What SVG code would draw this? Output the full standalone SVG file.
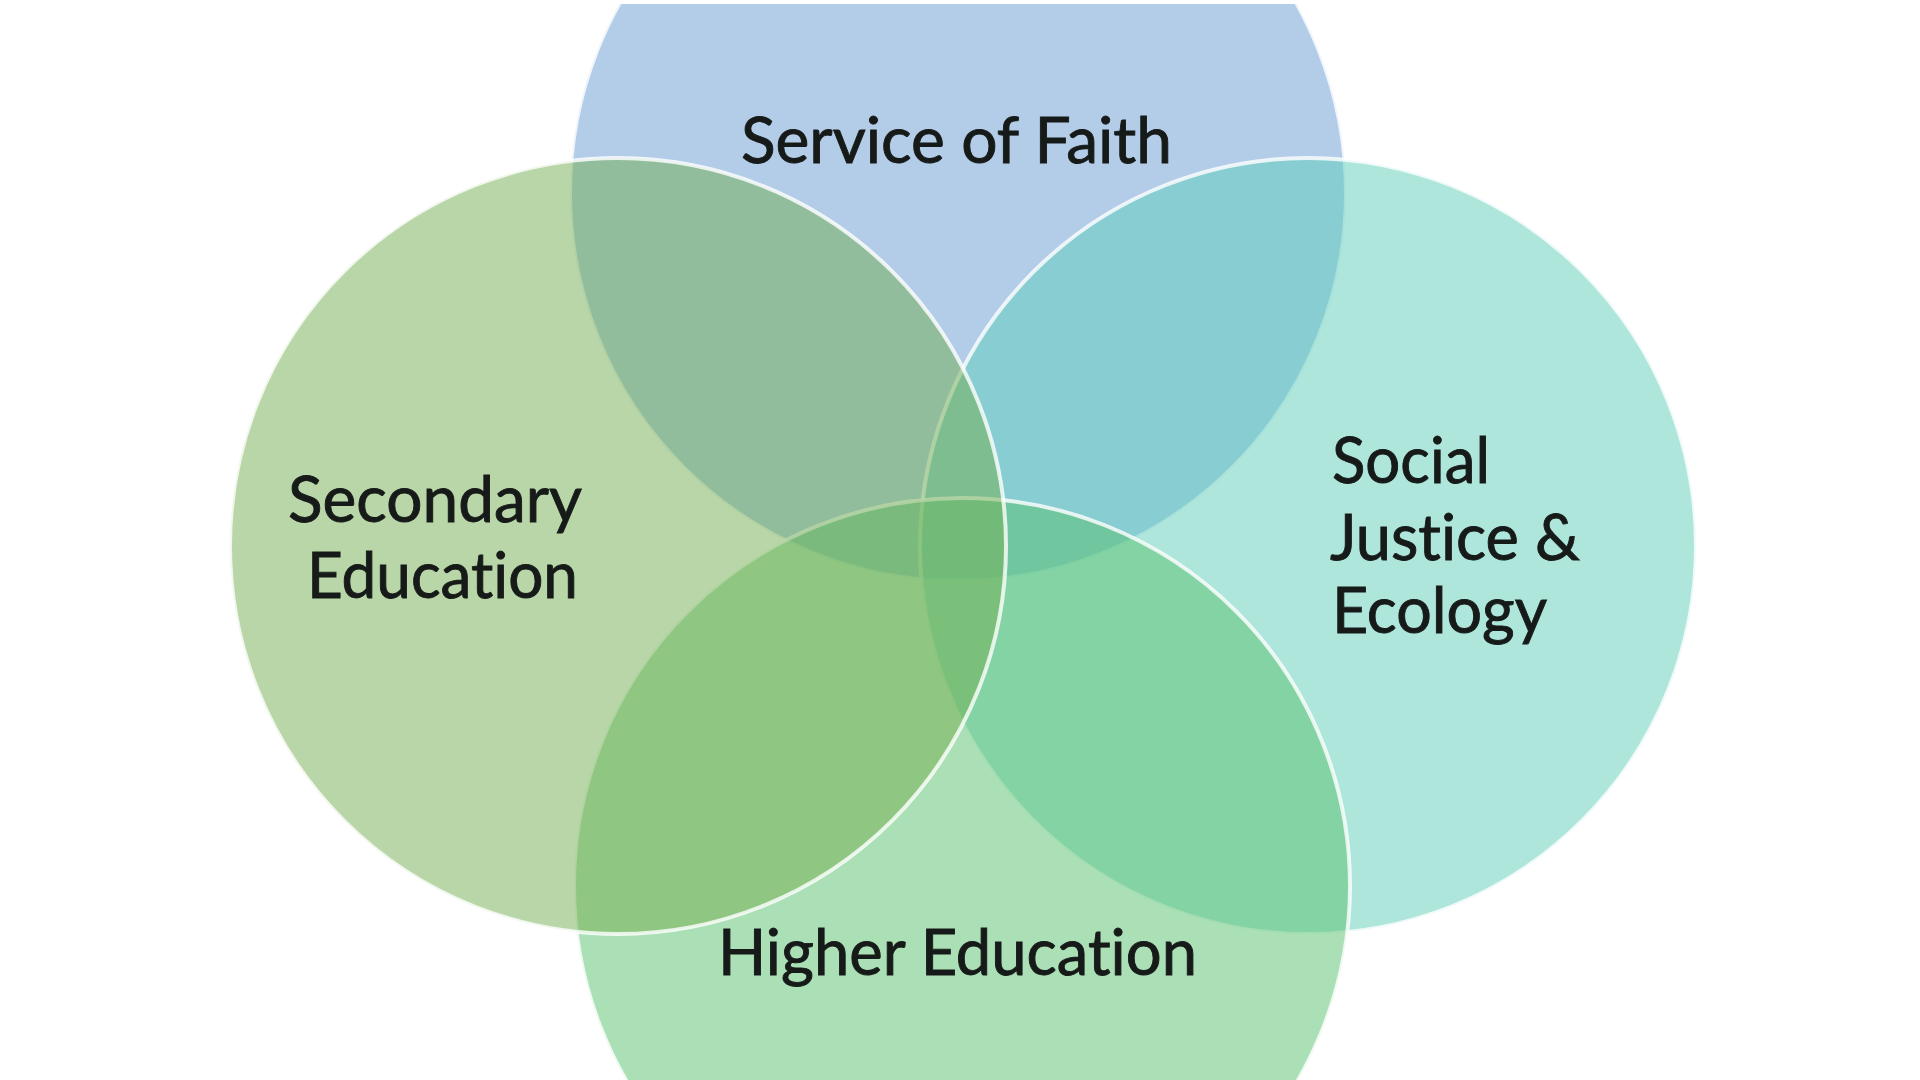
<svg xmlns="http://www.w3.org/2000/svg" width="1920" height="1080" viewBox="0 0 1920 1080">
<style>
.c{fill-opacity:0.5;stroke:#ffffff;stroke-width:4;stroke-opacity:0.8}
.t{font-family:Lato,"Open Sans","Liberation Sans",sans-serif;font-size:63px;fill:#161a18;stroke:#161a18;stroke-width:0.9;font-variant-ligatures:none;font-feature-settings:"liga" 0,"clig" 0}
</style>
<defs>
<clipPath id="frame"><rect x="0" y="4" width="1920" height="1076"/></clipPath>
</defs>
<rect x="0" y="0" width="1920" height="1080" fill="#ffffff"/>
<g clip-path="url(#frame)">
<g id="node-service-of-faith">
<circle class="c" cx="958" cy="193" r="388" fill="#679BD3"/>
<text class="t" x="741" y="163" textLength="431" lengthAdjust="spacingAndGlyphs">Service of Faith</text>
</g>
<g id="node-social-justice-ecology">
<circle class="c" cx="1308" cy="546" r="388" fill="#5DCDB9"/>
<text class="t" x="1332" y="483" textLength="158" lengthAdjust="spacingAndGlyphs">Social</text>
<text class="t" x="1330" y="560" textLength="250" lengthAdjust="spacingAndGlyphs">Justice &amp;</text>
<text class="t" x="1332" y="633" textLength="215" lengthAdjust="spacingAndGlyphs">Ecology</text>
</g>
<g id="node-higher-education">
<circle class="c" cx="962" cy="886" r="388" fill="#57BF6B"/>
<text class="t" x="718" y="975" textLength="479" lengthAdjust="spacingAndGlyphs">Higher Education</text>
</g>
<g id="node-secondary-education">
<circle class="c" cx="618" cy="546" r="388" fill="#71AD4F"/>
<text class="t" x="288" y="522" textLength="294" lengthAdjust="spacingAndGlyphs">Secondary</text>
<text class="t" x="307" y="598" textLength="271" lengthAdjust="spacingAndGlyphs">Education</text>
</g>
</g>
</svg>
